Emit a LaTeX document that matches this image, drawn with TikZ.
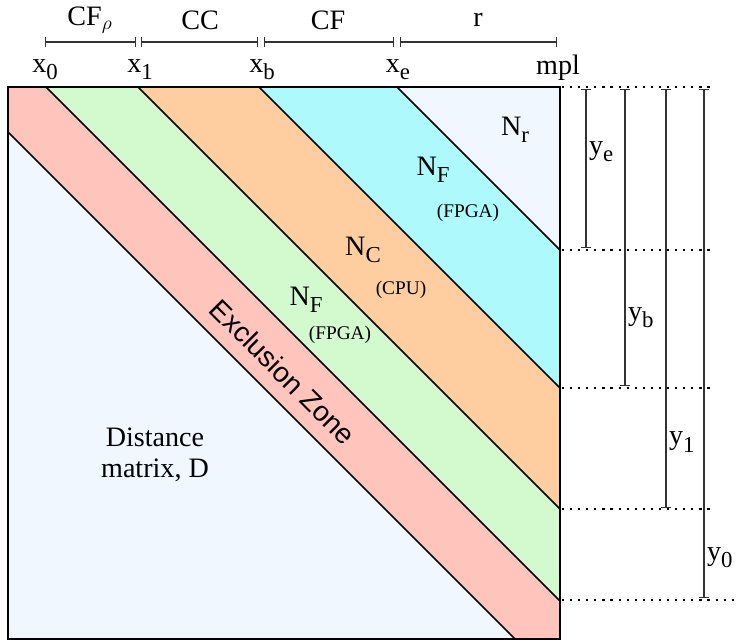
\documentclass[tikz,border=0pt]{standalone}
\usepackage{fontspec}
\setmainfont{Liberation Serif}
\newfontfamily\zonefont{Liberation Sans}
\usetikzlibrary{arrows.meta}
\definecolor{zonered}{HTML}{FFC5BD}
\definecolor{fpgagreen}{HTML}{D3F9CE}
\definecolor{cpuorange}{HTML}{FFCEA0}
\definecolor{fpgacyan}{HTML}{AEF9FC}
\definecolor{restblue}{HTML}{F0F7FF}
\newcommand{\lowsub}[1]{\raisebox{-0.55ex}{\fontsize{13}{13}\selectfont #1}}

\begin{document}
\begin{tikzpicture}[x=0.02cm,y=-0.02cm,
  lbl/.style={font=\fontsize{16}{18}\selectfont,inner sep=1pt},
  small/.style={font=\fontsize{11}{12}\selectfont,inner sep=1pt},
  dimline/.style={{Bar[width=6pt]}-{Bar[width=6pt]},line width=0.65pt,draw=black!80},
  guide/.style={line width=0.7pt,dash pattern=on 1.2pt off 3.4pt}]
\useasboundingbox (0,0) rectangle (738,642);
% corners of the matrix and band ends
\coordinate (tl) at (8,87); \coordinate (br) at (560,639);
\coordinate (t0) at (46,87); \coordinate (t1) at (138,87);
\coordinate (tb) at (259,87); \coordinate (te) at (397,87);
\coordinate (r0) at (560,601); \coordinate (r1) at (560,509);
\coordinate (rb) at (560,388); \coordinate (re) at (560,250);
\coordinate (lz) at (8,132); \coordinate (bz) at (515,639);
\fill[restblue] (tl) rectangle (br);
\fill[zonered] (tl) -- (t0) -- (r0) -- (br) -- (bz) -- (lz) -- cycle;
\fill[fpgagreen] (t0) -- (t1) -- (r1) -- (r0) -- cycle;
\fill[cpuorange] (t1) -- (tb) -- (rb) -- (r1) -- cycle;
\fill[fpgacyan] (tb) -- (te) -- (re) -- (rb) -- cycle;
\foreach \a/\b in {t0/r0,t1/r1,tb/rb,te/re,lz/bz}
  \draw[line width=1pt] (\a) -- (\b);
\draw[line width=1pt] (tl) rectangle (br);

% labels inside
\node[lbl] (nr) at (515,130) {N\lowsub{r}};
\node[lbl] (nfa) at (433,170) {N\lowsub{F}};
\node[small] (fpgaa) at (468,213) {(FPGA)};
\node[lbl] (nc) at (363,250) {N\lowsub{C}};
\node[small] (cpu) at (401,290) {(CPU)};
\node[lbl] (nfb) at (306,300) {N\lowsub{F}};
\node[small] (fpgab) at (340,335) {(FPGA)};
\node[font=\zonefont\fontsize{16}{18}\selectfont,rotate=-45] (ez) at (283,372) {Exclusion Zone};
\node[lbl,align=center] (dm) at (155,455) {Distance\\matrix, D};

% top dimensions
\node[lbl] (x0) at (45,70) {x\lowsub{0}};
\node[lbl] (x1) at (140,70) {x\lowsub{1}};
\node[lbl] (xb) at (262,70) {x\lowsub{b}};
\node[lbl] (xe) at (398,70) {x\lowsub{e}};
\node[lbl] (mpl) at (558,68) {mpl};
\coordinate (a0) at (45,42); \coordinate (a1) at (136,42);
\coordinate (a2) at (141,42); \coordinate (a3) at (258,42);
\coordinate (a4) at (264,42); \coordinate (a5) at (394,42);
\coordinate (a6) at (400,42); \coordinate (a7) at (557,42);
\draw[dimline] (a0) -- (a1);
\draw[dimline] (a2) -- (a3);
\draw[dimline] (a4) -- (a5);
\draw[dimline] (a6) -- (a7);
\node[lbl] (cfr) at (90,20) {CF$_\rho$};
\node[lbl] (cc) at (200,20) {CC};
\node[lbl] (cf) at (328,20) {CF};
\node[lbl] (r) at (478,20) {r};

% right dimensions
\foreach \y in {87,250,388,509} \draw[guide] (562,\y) -- (713,\y);
\draw[guide] (562,600) -- (738,600);
\coordinate (ye1) at (586,89); \coordinate (ye2) at (586,248);
\coordinate (yb1) at (625,89); \coordinate (yb2) at (625,386);
\coordinate (y11) at (666,89); \coordinate (y12) at (666,508);
\coordinate (y01) at (704,89); \coordinate (y02) at (704,598);
\draw[dimline] (ye1) -- (ye2);
\draw[dimline] (yb1) -- (yb2);
\draw[dimline] (y11) -- (y12);
\draw[dimline] (y01) -- (y02);
\node[lbl,anchor=west] (ye) at (587,152) {y\lowsub{e}};
\node[lbl,anchor=west] (yb) at (626,318) {y\lowsub{b}};
\node[lbl,anchor=west] (y1) at (667,442) {y\lowsub{1}};
\node[lbl,anchor=west] (y0) at (705,558) {y\lowsub{0}};
\end{tikzpicture}
\end{document}
